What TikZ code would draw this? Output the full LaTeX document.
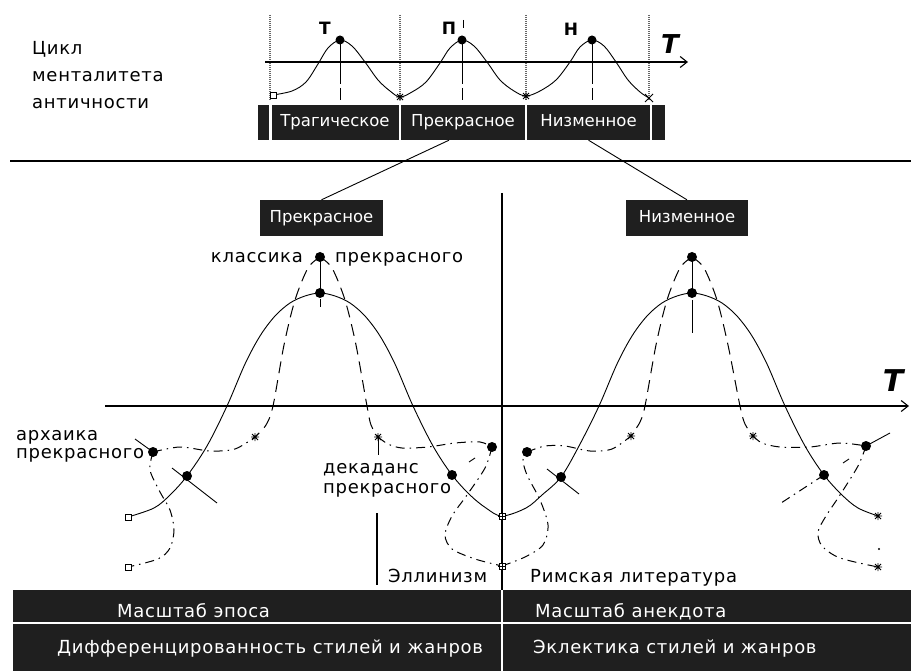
\documentclass[tikz,border=0pt]{standalone}
\usepackage{fontspec}
\setmainfont{DejaVu Sans}
\newfontfamily\lbl[LetterSpace=4]{DejaVu Sans}
\usetikzlibrary{arrows.meta,calc}
\tikzset{astr/.pic={\draw[line width=0.9pt] (-4,0)--(4,0) (0,-4)--(0,4) (-3,-3)--(3,3) (-3,3)--(3,-3);}}
\begin{document}
\begin{tikzpicture}[x=1pt,y=-1pt,
  thinline/.style={line width=0.9pt},
  dashline/.style={line width=1pt,dash pattern=on 12pt off 7pt},
  dashdot/.style={line width=1pt,dash pattern=on 9pt off 5pt on 1.5pt off 5pt},
  dotm/.style={circle,fill=black,inner sep=0pt,minimum size=10pt},
  sqm/.style={draw,fill=white,inner sep=0pt,minimum size=6pt,line width=0.8pt},
  blackcell/.style={fill=black!88,text=white,inner sep=0pt,text height=12pt,text depth=3.5pt,font=\fontsize{16.5}{16.5}\selectfont},
  lab/.style={inner sep=0pt,font=\lbl\fontsize{18}{18}\selectfont},
  wlab/.style={lab,text=white},
  axisarrow/.style={line width=1.1pt,-{Straight Barb[length=7pt,width=11pt]}},
  guide/.style={line width=2pt,black!60,dash pattern=on 1pt off 1pt},
]
\useasboundingbox (0,0) rectangle (911,671);
\fill[white] (0,0) rectangle (911,671);

% title
\node[lab,anchor=base west] (t1) at (32,55) {Цикл};
\node[lab,anchor=base west] (t2) at (32,82) {менталитета};
\node[lab,anchor=base west] (t3) at (32,109) {античности};

% top diagram
\foreach \x in {270,400,526,649} \draw[guide] (\x,15) -- (\x,100);
\draw[axisarrow] (265,62) -- (688,62);
\node[font=\bfseries\itshape\fontsize{26}{26}\selectfont,inner sep=0pt] (Ttop) at (670,44) {T};
\draw[thinline] plot[smooth,tension=0.55] coordinates {(273,95) (292,91) (306,82) (318,64) (328,48) (340,40) (352,46) (365,62) (378,80) (390,91) (400,97) (412,92) (426,82) (440,63) (450,48) (462,40) (474,46) (487,62) (500,80) (514,91) (526,96) (540,91) (556,80) (570,62) (580,47) (592,40) (604,46) (616,62) (628,80) (640,92) (649,98)};
\foreach \x in {340,462,592} \draw[thinline] (\x,40) -- (\x,84) (\x,88) -- (\x,100);
\draw[thinline] (463,20) -- (463,28);
\node[dotm,minimum size=9pt] (pT) at (340,40) {};
\node[dotm,minimum size=9pt] (pP) at (462,40) {};
\node[dotm,minimum size=9pt] (pN) at (592,40) {};
\node[font=\bfseries\fontsize{17}{17}\selectfont,inner sep=0pt] (lT) at (325,28) {Т};
\node[font=\bfseries\fontsize{17}{17}\selectfont,inner sep=0pt] (lP) at (449,28) {П};
\node[font=\bfseries\fontsize{17}{17}\selectfont,inner sep=0pt] (lN) at (571,29) {Н};
\node[sqm] (s0) at (273,95) {};
\pic at (400,97) {astr};
\pic at (526,96) {astr};
\draw[line width=0.9pt] (645,94) -- (653,102) (645,102) -- (653,94);

% top bar
\node[blackcell,minimum width=11pt,minimum height=35pt] (c0) at (263.5,122.5) {};
\node[blackcell,minimum width=127pt,minimum height=35pt] (cT) at (335,122.5) {Трагическое};
\node[blackcell,minimum width=124pt,minimum height=35pt] (cP) at (463,122.5) {Прекрасное};
\node[blackcell,minimum width=123pt,minimum height=35pt] (cN) at (588.5,122.5) {Низменное};
\node[blackcell,minimum width=13pt,minimum height=35pt] (cE) at (658.5,122.5) {};

\draw[line width=1.2pt] (10,161) -- (911,161);

% boxes
\node[blackcell,minimum width=123pt,minimum height=36pt] (bP) at (321.5,218) {Прекрасное};
\node[blackcell,minimum width=122pt,minimum height=36pt] (bN) at (687,218) {Низменное};
\draw[thinline] ($(cP.south)+(-14,0)$) -- (bP.north);
\draw[thinline] (cN.south) -- (bN.north);

% middle vertical, lower axis
\draw[line width=1.1pt] (502,193) -- (502,590);
\draw[axisarrow] (105,406) -- (909,406);
\node[font=\bfseries\itshape\fontsize{30}{30}\selectfont,inner sep=0pt] (Tlow) at (893,381) {T};

% solid wave
\draw[thinline] plot[smooth,tension=0.55] coordinates {(128,517) (154,508) (170,495) (187,476) (207,446) (227,406) (245,364) (260,336) (275,316) (290,303) (305,296) (320,293) (335,296) (350,303) (365,316) (380,336) (395,364) (413,406) (433,446) (452,475) (470,495) (486,508) (502,516) (526,508) (542,495) (561,477) (579,446) (599,406) (617,364) (632,336) (647,316) (662,303) (677,296) (692,293) (707,296) (722,303) (737,316) (752,336) (767,364) (785,406) (805,446) (824,475) (842,495) (858,508) (878,516)};

% dashed
\draw[dashline] plot[smooth] coordinates {(320,257) (308,268) (295,300) (284,345) (273,406) (266,425) (255,437)};
\draw[dashline] plot[smooth] coordinates {(320,257) (332,268) (345,300) (356,345) (367,406) (371,425) (378,437)};
\draw[dashline] plot[smooth] coordinates {(692,257) (680,268) (667,300) (656,345) (645,406) (640,422) (631,436)};
\draw[dashline] plot[smooth] coordinates {(692,257) (704,268) (717,300) (728,345) (740,406) (745,424) (753,436)};

% dash-dot
\draw[dashdot] plot[smooth] coordinates {(153,452) (180,447) (210,451) (235,449) (255,437)};
\draw[dashdot] plot[smooth] coordinates {(153,452) (150,470) (160,492) (170,510) (174,530) (170,548) (158,559) (128,567)};
\draw[dashdot] plot[smooth] coordinates {(378,437) (388,444) (402,448) (428,447) (455,443) (480,442) (492,447)};
\draw[dashdot] plot[smooth] coordinates {(492,447) (485,468) (467,495) (452,516) (445,535) (452,549) (475,559) (502,566)};
\draw[dashdot] plot[smooth] coordinates {(502,566) (525,557) (543,545) (548,525) (540,500) (527,475) (523,460) (527,452)};
\draw[dashdot] plot[smooth] coordinates {(527,452) (545,446) (565,446) (590,451) (612,449) (631,436)};
\draw[dashdot] plot[smooth] coordinates {(753,436) (762,443) (780,447) (810,447) (840,443) (866,446)};
\draw[dashdot] plot[smooth] coordinates {(866,446) (858,466) (840,495) (826,516) (818,532) (822,546) (840,558) (878,567)};
\draw[dashdot] (824,475) -- (778,505);

% ticks and leaders
\draw[thinline] (172,468) -- (217,503);
\draw[thinline] (547,469) -- (579,494);
\draw[thinline] (135,439) -- (153,452);
\draw[thinline] (866,446) -- (890,433);
\draw[thinline] (469,462) -- (475,458);
\draw[thinline] (843,463) -- (849,459);
\fill (879,549) circle (1.2pt);
\draw[thinline] (320,257) -- (320,293);
\draw[thinline] (320,299) -- (320,307);
\draw[thinline] (692,257) -- (692,293);
\draw[thinline] (692,300) -- (692,333);
\draw[thinline] (378,438) -- (378,455);
\draw[line width=1.1pt] (377,513) -- (377,585);

% markers
\node[dotm] (kTop) at (320,257) {};
\node[dotm] (kPeak) at (320,293) {};
\node[dotm] (nTop) at (692,257) {};
\node[dotm] (nPeak) at (692,293) {};
\node[dotm] (arch) at (153,452) {};
\node[dotm] (d1) at (187,476) {};
\node[dotm] (d2) at (452,475) {};
\node[dotm] (dD) at (492,447) {};
\node[dotm] (dF) at (527,452) {};
\node[dotm] (d3) at (561,477) {};
\node[dotm] (d4) at (824,475) {};
\node[dotm] (dG) at (866,446) {};
\node[sqm] (sq1) at (128,517) {};
\node[sqm] (sq2) at (128,567) {};
\node[sqm] (sq3) at (502,516) {};
\node[sqm] (sq4) at (502,566) {};
\draw[line width=0.8pt] (502,512) -- (502,520) (498,516) -- (506,516) (502,562) -- (502,570) (498,566) -- (506,566);
\pic at (255,437) {astr};
\pic at (378,437) {astr};
\pic at (631,436) {astr};
\pic at (753,436) {astr};
\pic at (878,516) {astr};
\pic at (878,567) {astr};

% labels
\node[lab,anchor=base east] (lk1) at (303,263) {классика};
\node[lab,anchor=base west] (lk2) at (335,263) {прекрасного};
\node[lab,anchor=base west] (la1) at (16,440) {архаика};
\node[lab,anchor=base west] (la2) at (16,458) {прекрасного};
\node[lab,anchor=base west] (ld1) at (323,473) {декаданс};
\node[lab,anchor=base west] (ld2) at (323,493) {прекрасного};
\node[lab,anchor=base west] (le) at (388,582) {Эллинизм};
\node[lab,anchor=base west] (lr) at (530,582) {Римская литература};

% bottom bars
\fill[black!88] (13,590) rectangle (911,671);
\draw[white,line width=1.5pt] (10,623) -- (911,623);
\draw[white,line width=1.5pt] (502,590) -- (502,671);
\node[wlab,anchor=base west] (b1) at (117,617) {Масштаб эпоса};
\node[wlab,anchor=base west] (b2) at (535,617) {Масштаб анекдота};
\node[wlab,anchor=base west] (b3) at (57,653) {Дифференцированность стилей и жанров};
\node[wlab,anchor=base west] (b4) at (533,653) {Эклектика стилей и жанров};
\end{tikzpicture}
\end{document}
